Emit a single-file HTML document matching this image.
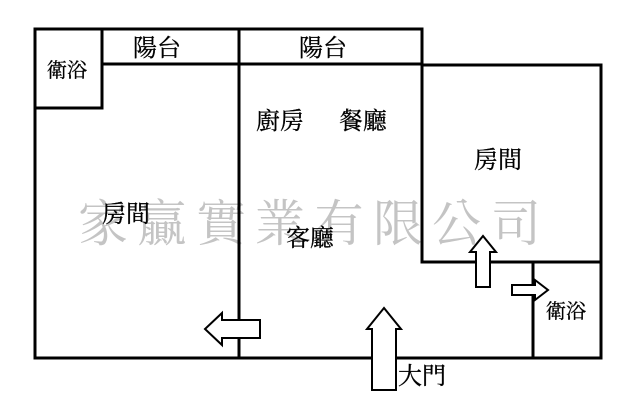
<!DOCTYPE html>
<html><head><meta charset="utf-8"><style>
html,body{margin:0;padding:0;background:#fff;}
svg{display:block;}
text{font-family:"Liberation Serif","Noto Serif CJK TC","Noto Serif CJK SC",serif;}
</style></head><body>
<svg width="640" height="416" viewBox="0 0 640 416" xmlns="http://www.w3.org/2000/svg">
<rect width="640" height="416" fill="#fff"/>
<text x="78" y="241" font-size="50" fill="#c4c4c4" letter-spacing="9">家贏實業有限公司</text>
<g stroke="#000" stroke-width="3" fill="none" stroke-linecap="square">
<polyline points="35,29 422,29 422,262 601,262 601,65 422,65"/>
<line x1="35" y1="29" x2="35" y2="358"/>
<line x1="35" y1="358" x2="601" y2="358"/>
<line x1="601" y1="262" x2="601" y2="358"/>
<line x1="102" y1="29" x2="102" y2="108"/>
<line x1="35" y1="108" x2="102" y2="108"/>
<line x1="102" y1="64" x2="422" y2="64"/>
<line x1="239" y1="29" x2="239" y2="358"/>
<line x1="533" y1="262" x2="533" y2="358"/>
</g>
<g stroke="#000" stroke-width="2" fill="#fff" stroke-linejoin="miter">
<polygon points="260,320 222,320 222,313 205,329 222,345 222,338 260,338"/>
<polygon points="372,390 396,390 396,329 401,329 384,308 367,329 372,329"/>
<polygon points="476,287 490,287 490,252 496,252 483,236 470,252 476,252"/>
<polygon points="512,285 535,285 535,280 548,290 535,300 535,295 512,295"/>
</g>
<g font-size="20" fill="#000" stroke="#000" stroke-width="0.3">
<text x="47" y="77">衛浴</text>
<text x="133" y="56" font-size="24">陽台</text>
<text x="299" y="56" font-size="24">陽台</text>
<text x="256" y="129" font-size="24">廚房</text>
<text x="339" y="129" font-size="24">餐廳</text>
<text x="474" y="168" font-size="24">房間</text>
<text x="102" y="222" font-size="24">房間</text>
<text x="286" y="246" font-size="24">客廳</text>
<text x="546" y="318">衛浴</text>
<text x="398" y="384" font-size="24">大門</text>
</g>
</svg>
</body></html>
